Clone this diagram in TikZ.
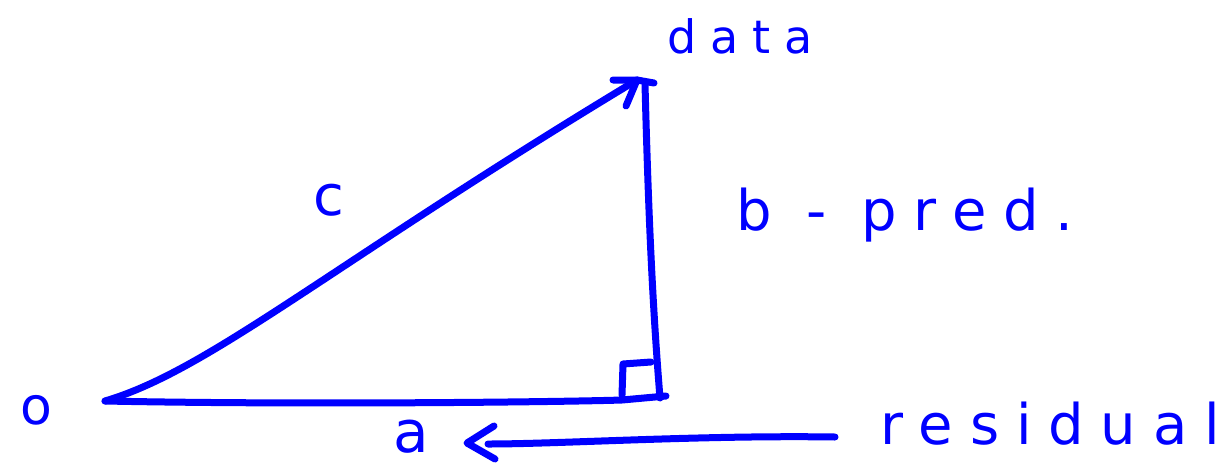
\documentclass[tikz,border=0pt]{standalone}
\usepackage{fontspec}
\setmainfont{DejaVu Sans}
\newfontfamily\hand[LetterSpace=30]{DejaVu Sans}
\usetikzlibrary{arrows.meta}
\definecolor{ink}{RGB}{0,0,255}
\tikzset{
  pen/.style={draw=ink, line width=7pt, line cap=round, line join=round},
  lbl/.style={text=ink, inner sep=0pt, font=\hand\fontsize{56}{60}\selectfont},
}
\begin{document}
\begin{tikzpicture}[x=1pt,y=-1pt]
\useasboundingbox (0,0) rectangle (1230,469);
\coordinate (O) at (105,401);
\coordinate (D) at (637,80);
\coordinate (R) at (660,398);
\coordinate (Rend) at (666,396);
\coordinate (Dtop) at (645,84);
\coordinate (A1) at (835,437);
\coordinate (A2) at (467,443);
% hypotenuse with arrow
\draw[pen] (O) .. controls (210,370) and (330,265) .. (D);
\draw[pen] (613,80) -- (D) -- (626,106);
\draw[pen] (D) -- (654,83);
% vertical side
\draw[pen] (Dtop) .. controls (648,200) and (652,300) .. (R);
% base
\draw[pen] (O) .. controls (300,405) and (560,402) .. (622,400) -- (Rend);
% right angle mark
\draw[pen] (622,395) -- (623,364) -- (651,362);
% residual arrow
\draw[pen] (A1) .. controls (700,435) and (560,444) .. (488,444);
\draw[pen] (494,426) -- (A2) -- (495,459);
% labels
\node[lbl, font=\hand\fontsize{52}{56}\selectfont] (o) at (36,410) {o};
\node[lbl, font=\hand\fontsize{58}{62}\selectfont] (a) at (411,437) {a};
\node[lbl] (c) at (329,200) {c};
\node[lbl, font=\hand\fontsize{46}{50}\selectfont] (data) at (740,36) {data};
\node[lbl] (b) at (905,215) {b - pred.};
\node[lbl] (res) at (1050,424) {residual};
\end{tikzpicture}
\end{document}
